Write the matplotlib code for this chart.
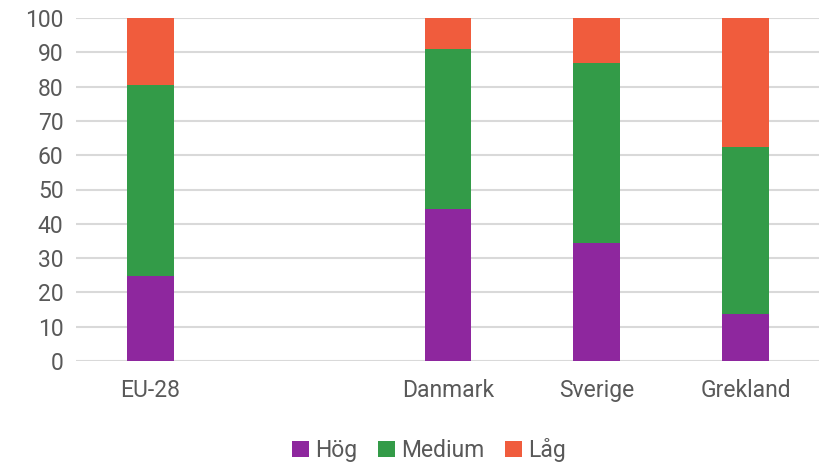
import matplotlib
matplotlib.use('Agg')
import matplotlib.pyplot as plt
import numpy as np

# data
categories = ['EU-28', '', 'Danmark', 'Sverige', 'Grekland']
hog = [24.8, 0, 44.3, 34.4, 13.7]
medium = [55.7, 0, 46.7, 52.5, 48.7]
lag = [19.5, 0, 9.0, 13.1, 37.6]
series_names = ['Hög', 'Medium', 'Låg']
colors = ['#8E279E', '#339B48', '#F05C3D']

plt.rcParams['font.family'] = ['Roboto', 'DejaVu Sans']

fig = plt.figure(figsize=(8.2, 4.66), dpi=100)
ax = fig.add_axes([76/820, 1 - 361/466, (820 - 76)/820, (361 - 18)/466])

x = np.arange(len(categories))
w = 0.315
bottom = np.zeros(len(categories))
for vals, name, col in zip([hog, medium, lag], series_names, colors):
    ax.bar(x, vals, w, bottom=bottom, color=col, label=name, zorder=3)
    bottom += np.array(vals)

ax.set_xlim(-0.5, len(categories) - 0.5)
ax.set_ylim(0, 100)
ax.set_yticks(np.arange(0, 101, 10))
ax.set_xticks(x)
ax.set_xticklabels(categories)
ax.grid(axis='y', color='#d9d9d9', linewidth=1.5, zorder=0)
for s in ax.spines.values():
    s.set_visible(False)
ax.tick_params(axis='both', length=0, labelsize=16.5, colors='#595959')
ax.tick_params(axis='x', pad=13)
ax.tick_params(axis='y', pad=9)

leg = fig.legend(loc='center', ncol=3, frameon=False,
                 fontsize=16.5, handlelength=0.75, handleheight=0.75, handletextpad=0.25,
                 columnspacing=0.9)
for t in leg.get_texts():
    t.set_color('#595959')
leg.set_bbox_to_anchor((0.523, 1 - 450/466), transform=fig.transFigure)

fig.savefig('out.png', dpi=100)
